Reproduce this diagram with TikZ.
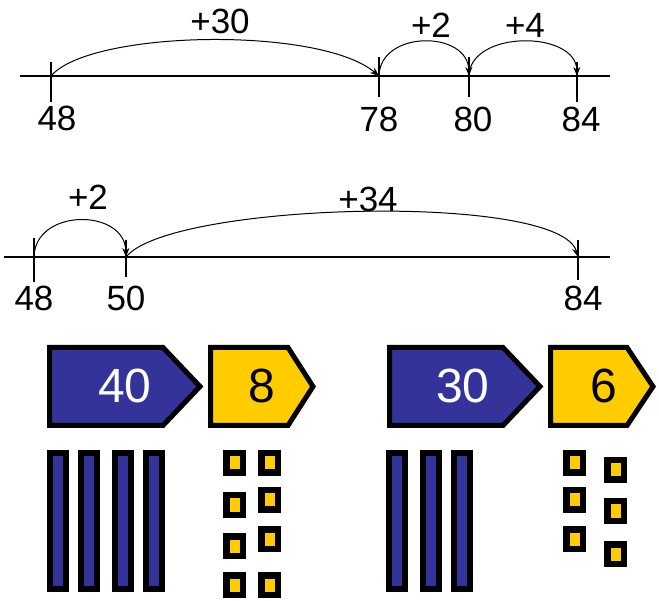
\documentclass[tikz,border=0pt]{standalone}
\usepackage{fontspec}
\setmainfont{Liberation Sans}
\usetikzlibrary{arrows.meta}
\definecolor{tagblue}{HTML}{333399}
\definecolor{tagyellow}{HTML}{FFCC00}
\begin{document}
\begin{tikzpicture}[x=1pt,y=-1pt,
  nl/.style={line width=1.3pt,draw=black},
  jump/.style={line width=1pt,draw=black,-{Stealth[length=9pt,width=7pt]}},
  num/.style={font=\fontsize{35}{40}\selectfont,inner sep=0pt},
  tagbox/.style={line width=5pt,draw=black,line join=miter},
  tagtxt/.style={font=\fontsize{48}{54}\selectfont,inner sep=0pt},
  rod/.style={line width=6pt,draw=black,fill=tagblue},
  cube/.style={line width=6.5pt,draw=black,fill=tagyellow}]
\useasboundingbox (0,0) rectangle (659,601);
% ---------- number line 1 ----------
\coordinate (La) at (20,76);
\coordinate (Lb) at (610,76);
\draw[nl] (La) -- (Lb);
\coordinate (a48) at (51,76);
\coordinate (a78) at (379,76);
\coordinate (a80) at (469,76);
\coordinate (a84) at (577,76);
\draw[nl] (51,62) -- (51,102);
\draw[nl] (379,57) -- (379,97);
\draw[nl] (469,57) -- (469,97);
\draw[nl] (577,62) -- (577,102);
\draw[jump] (a48) .. controls (90,30) and (320,26) .. (a78);
\draw[jump] (a78) .. controls (380,30) and (468,30) .. (a80);
\draw[jump] (a80) .. controls (470,30) and (576,30) .. (a84);
\node[num] (t48) at (57,118) {48};
\node[num] (t78) at (379,119) {78};
\node[num] (t80) at (473,119) {80};
\node[num] (t84) at (581,119) {84};
\node[num] (p30) at (220,21) {+30};
\node[num] (p2a) at (431,25) {+2};
\node[num] (p4) at (525,25) {+4};
% ---------- number line 2 ----------
\coordinate (Ma) at (4,257);
\coordinate (Mb) at (610,257);
\draw[nl] (Ma) -- (Mb);
\coordinate (b48) at (34,257);
\coordinate (b50) at (126,257);
\coordinate (b84) at (578,257);
\draw[nl] (34,238) -- (34,282);
\draw[nl] (126,240) -- (126,277);
\draw[nl] (578,240) -- (578,280);
\draw[jump] (b48) .. controls (35,208) and (125,208) .. (b50);
\draw[jump] (b50) .. controls (170,202) and (560,192) .. (b84);
\node[num] (u48) at (34,298) {48};
\node[num] (u50) at (126,298) {50};
\node[num] (u84) at (583,298) {84};
\node[num] (p2b) at (88,197) {+2};
\node[num] (p34) at (368,199) {+34};
% ---------- tags ----------
\path[tagbox,fill=tagblue] (49.5,347.5) -- (163,347.5) -- (200,386.5) -- (163,425.5) -- (49.5,425.5) -- cycle;
\path[tagbox,fill=tagyellow] (210.5,347.5) -- (288,347.5) -- (313,386.5) -- (288,425.5) -- (210.5,425.5) -- cycle;
\path[tagbox,fill=tagblue] (389.5,347.5) -- (503,347.5) -- (540,386.5) -- (503,425.5) -- (389.5,425.5) -- cycle;
\path[tagbox,fill=tagyellow] (550.5,347.5) -- (627,347.5) -- (653,386.5) -- (627,425.5) -- (550.5,425.5) -- cycle;
\node[tagtxt,text=white] (n40) at (125,386) {40};
\node[tagtxt] (n8) at (262,386) {8};
\node[tagtxt,text=white] (n30) at (463,386) {30};
\node[tagtxt] (n6) at (604,386) {6};
% ---------- rods ----------
\foreach \x in {47,78,112,143,386,420,451}
  \draw[rod] (\x+3,453) rectangle (\x+19,589);
% ---------- cubes ----------
\foreach \x/\y in {223/450,223/492,223/533,223/572,258/450,258/487,258/526,258/572,
                   563/450,563/487,563/526,604/457,604/498,604/541}
  \draw[cube] (\x+3.25,\y+3.25) rectangle (\x+19.75,\y+22.75);
\end{tikzpicture}
\end{document}
